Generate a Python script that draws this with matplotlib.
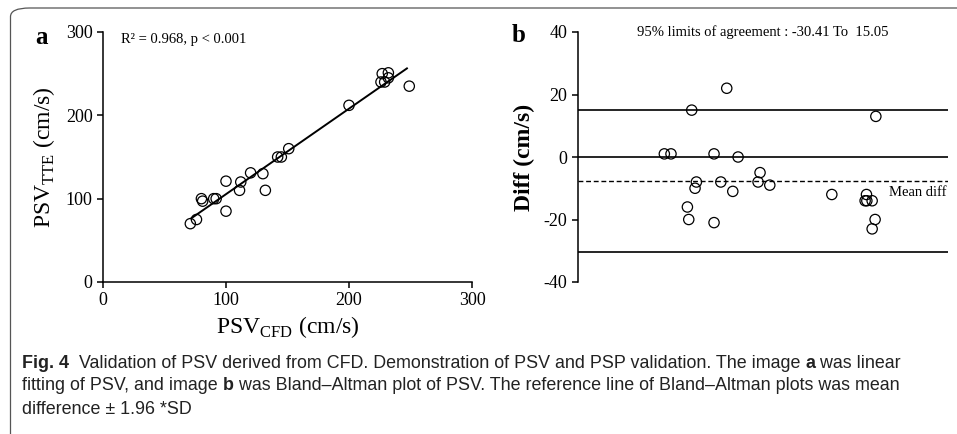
import matplotlib
matplotlib.use("Agg")
import numpy as np
import matplotlib.pyplot as plt
from matplotlib.patches import FancyBboxPatch

# panel a: PSV from CFD vs PSV from TTE (cm/s)
psv_cfd = [71, 76, 80, 81, 90, 92, 100, 100, 111, 112, 120, 130, 132,
           142, 145, 151, 200, 227, 232, 226, 229, 232, 249]
psv_tte = [70, 75, 100, 97, 100, 100, 121, 85, 110, 120, 131, 130, 110,
           150, 150, 160, 212, 250, 251, 240, 240, 245, 235]
fit_slope = 1.026
fit_intercept = 2.8
r2_text = "R\u00b2 = 0.968, p < 0.001"

# panel b: Bland-Altman, mean of both methods vs difference
ba_mean = [70.0, 75.4, 92.2, 120.6, 110.3, 129.8, 96.0, 94.9, 88.7, 89.8,
           110.3, 115.8, 125.5, 147.6, 146.0, 155.5, 205.8, 233.9, 232.8,
           234.2, 238.5, 241.5, 240.9, 238.5]
ba_diff = [1, 1, 15, 22, 1, 0, -8, -10, -16, -20, -21, -8, -11, -5, -8, -9,
           -12, -12, -14, -14, -14, 13, -20, -23]
loa_upper = 15.05
loa_lower = -30.41
mean_diff = -7.78

plt.rcParams["font.family"] = ["Liberation Serif", "DejaVu Serif"]
plt.rcParams["mathtext.fontset"] = "custom"
plt.rcParams["mathtext.rm"] = "Liberation Serif"
plt.rcParams["axes.unicode_minus"] = False
sans = ["Liberation Sans", "DejaVu Sans"]

fig = plt.figure(figsize=(9.57, 4.34), dpi=100)

# frame around the figure (only top and left show)
frame = FancyBboxPatch((10.5 / 957, -0.2), 1.2, 1.2 - 8 / 434,
                       boxstyle="round,pad=0,rounding_size=0.02",
                       transform=fig.transFigure, fill=False,
                       edgecolor="#555555", linewidth=0.9, clip_on=False)
fig.patches.append(frame)

tick_kw = dict(direction="out", length=4.5, width=1.1, labelsize=13,
               colors="black", pad=3)

# ---- panel a ----
ax1 = fig.add_axes([103 / 957, 1 - 282 / 434, 369 / 957, 250 / 434])
ax1.scatter(psv_cfd, psv_tte, s=55, facecolors="none", edgecolors="black",
            linewidths=0.9, zorder=3)
xs = np.array([71.7, 247.1])
ax1.plot(xs, fit_slope * xs + fit_intercept, color="black", lw=1.4)
ax1.set_xlim(0, 300)
ax1.set_ylim(0, 300)
ax1.set_xticks([0, 100, 200, 300])
ax1.set_yticks([0, 100, 200, 300])
for s in ["top", "right"]:
    ax1.spines[s].set_visible(False)
for s in ["left", "bottom"]:
    ax1.spines[s].set_linewidth(1.1)
ax1.tick_params(**tick_kw)
ax1.set_xlabel("PSV$_{\\mathrm{CFD}}$ (cm/s)", fontsize=17, labelpad=3)
ax1.set_ylabel("PSV$_{\\mathrm{TTE}}$ (cm/s)", fontsize=17, labelpad=6)
ax1.text(0.05, 0.97, r2_text, transform=ax1.transAxes,
         fontsize=10.5, va="center", ha="left")

# ---- panel b ----
ax2 = fig.add_axes([578 / 957, 1 - 282 / 434, 370 / 957, 250 / 434])
ax2.scatter(ba_mean, ba_diff, s=55, facecolors="none", edgecolors="black",
            linewidths=0.9, zorder=3)
ax2.axhline(loa_upper, color="black", lw=1.2)
ax2.axhline(0, color="black", lw=1.2)
ax2.axhline(loa_lower, color="black", lw=1.2)
ax2.axhline(mean_diff, color="black", lw=1.0, ls=(0, (3.5, 2)))
ax2.set_xlim(0, 300)
ax2.set_ylim(-40, 40)
ax2.set_yticks([-40, -20, 0, 20, 40])
ax2.set_xticks([])
for s in ["top", "right", "bottom"]:
    ax2.spines[s].set_visible(False)
ax2.spines["left"].set_linewidth(1.1)
ax2.tick_params(**tick_kw)
ax2.set_ylabel("Diff (cm/s)", fontsize=17, fontweight="bold", labelpad=6)
ax2.text(0.5, 1.0, f"95% limits of agreement : {loa_lower:.2f} To  {loa_upper:.2f}",
         transform=ax2.transAxes, fontsize=10.5, ha="center", va="center")
ax2.text(0.995, mean_diff - 3.5, "Mean diff", transform=ax2.get_yaxis_transform(),
         fontsize=10.5, ha="right", va="center")

# panel letters
fig.text(42 / 957, 1 - 37 / 434, "a", fontweight="bold",
         fontsize=18, ha="center", va="center")
fig.text(519 / 957, 1 - 35 / 434, "b", fontweight="bold",
         fontsize=18, ha="center", va="center")

# ---- caption with bold runs ----
caption = [
    [("Fig. 4", True), ("  Validation of PSV derived from CFD. Demonstration of PSV "
                        "and PSP validation. The image ", False),
     ("a", True), (" was linear", False)],
    [("fitting of PSV, and image ", False), ("b", True),
     (" was Bland\u2013Altman plot of PSV. The reference line of Bland\u2013Altman "
      "plots was mean", False)],
    [("difference \u00b1 1.96 *SD", False)],
]
line_y = [363, 386, 409]
fig.canvas.draw()
renderer = fig.canvas.get_renderer()
for segs, y in zip(caption, line_y):
    x = 22
    for txt, bold in segs:
        t = fig.text(x / 957, 1 - y / 434, txt, family=sans, fontsize=12.9,
                     fontweight="bold" if bold else "normal", color="#222222",
                     ha="left", va="center")
        x += t.get_window_extent(renderer).width

fig.savefig("out.png", dpi=100)
